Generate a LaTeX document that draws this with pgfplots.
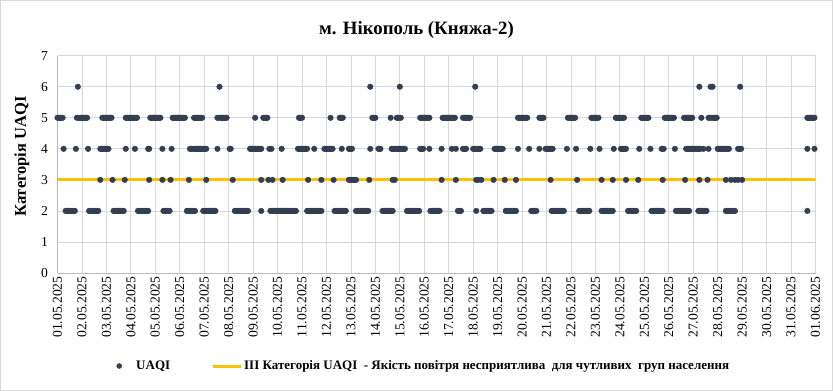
\documentclass[border=0pt]{standalone}
\usepackage{fontspec}
\setmainfont{Liberation Serif}
\usepackage{pgfplots}
\pgfplotsset{compat=1.18}
\definecolor{navy}{RGB}{51,63,80}
\definecolor{amber}{RGB}{255,192,0}
\definecolor{hgrid}{RGB}{207,215,232}
\definecolor{vgrid}{RGB}{217,217,217}
\definecolor{bordergray}{RGB}{217,217,217}
\begin{document}
\begin{tikzpicture}[x=1pt,y=1pt]
\useasboundingbox (0,0) rectangle (833,391);
\path[draw=bordergray, fill=white] (0.5,0.5) rectangle (832.5,390.5);
\node[font=\fontsize{18.8}{22}\selectfont\bfseries] at (416.5,361) {м. Нікополь (Княжа-2)};
\begin{axis}[
  at={(57.5pt,118pt)}, anchor=south west, scale only axis,
  width=758pt, height=217.3pt,
  xmin=0, xmax=744, ymin=0, ymax=7,
  xtick={0,24,...,744},
  xticklabels={01.05.2025,02.05.2025,03.05.2025,04.05.2025,05.05.2025,06.05.2025,07.05.2025,08.05.2025,09.05.2025,10.05.2025,11.05.2025,12.05.2025,13.05.2025,14.05.2025,15.05.2025,16.05.2025,17.05.2025,18.05.2025,19.05.2025,20.05.2025,21.05.2025,22.05.2025,23.05.2025,24.05.2025,25.05.2025,26.05.2025,27.05.2025,28.05.2025,29.05.2025,30.05.2025,31.05.2025,01.06.2025},
  ytick={0,1,...,7},
  /pgf/number format/assume math mode=true,
  xticklabel style={rotate=90, anchor=east, font=\fontsize{13.6}{15}\selectfont},
  yticklabel style={font=\fontsize{13.6}{15}\selectfont, xshift=-6pt},
  tick style={draw=none},
  xmajorgrids, ymajorgrids,
  x grid style={vgrid, line width=0.8pt},
  y grid style={hgrid, line width=0.8pt},
  axis x line*=bottom, axis y line*=left,
  axis line style={draw=gray!55, -, line width=0.8pt},
  ylabel={Категорія UAQI},
  ylabel style={font=\fontsize{16.5}{18}\selectfont\bfseries, at={(axis description cs:-0.047,0.536)}, anchor=center},
  legend style={at={(axis description cs:0.4765,-0.428)}, anchor=center, draw=none, fill=none,
    font=\fontsize{13}{15}\selectfont\bfseries, /tikz/every even column/.append style={column sep=39pt}},
  legend columns=2,
  legend cell align=left,
]
\addlegendimage{legend image code/.code={\path[draw=none] (0pt,0pt) -- (28pt,0pt); \path[draw=none, fill=navy] (13pt,0pt) circle (2.8pt);}}
\addlegendentry{UAQI}
\addlegendimage{legend image code/.code={\draw[amber, line width=3pt] (0pt,0pt) -- (28pt,0pt);}}
\addlegendentry{ІІІ Категорія UAQI\ \ - Якість повітря несприятлива\ \ для чутливих\ \ груп населення}

\addplot[forget plot, amber, line width=3pt] coordinates {(0,3)(744,3)};

% level 6
\addplot[forget plot, only marks, mark=*, mark size=2.8pt, color=navy] coordinates {
(20,6)(159,6)(307,6)(336,6)(410,6)(630,6)(641,6)(643,6)(670,6)};

% level 5
\addplot[forget plot, only marks, mark=*, mark size=2.8pt, color=navy] coordinates {
(0,5)(1,5)(2,5)(3,5)(4,5)(5,5)
(19,5)(21,5)(22,5)(23,5)(24,5)(25,5)(26,5)(27,5)(28,5)(29,5)
(44,5)(45,5)(46,5)(47,5)(48,5)(49,5)(50,5)(51,5)(52,5)(53,5)
(67,5)(68,5)(69,5)(70,5)(71,5)(72,5)(73,5)(74,5)(75,5)(76,5)(77,5)(78,5)
(91,5)(92,5)(93,5)(94,5)(95,5)(96,5)(97,5)(98,5)(99,5)(100,5)(101,5)
(113,5)(114,5)(115,5)(116,5)(117,5)(118,5)(119,5)(120,5)(121,5)(122,5)(123,5)(124,5)(125,5)
(134,5)(135,5)(136,5)(137,5)(138,5)(139,5)(140,5)(141,5)(142,5)
(157,5)(158,5)(160,5)(161,5)(162,5)(163,5)(164,5)(165,5)(166,5)
(194,5)
(202,5)(203,5)(204,5)(205,5)(206,5)
(237,5)(238,5)(239,5)(240,5)
(268,5)
(277,5)(278,5)(279,5)(280,5)
(309,5)(310,5)(311,5)(312,5)
(327,5)
(333,5)(334,5)(335,5)(337,5)
(356,5)(357,5)(358,5)(359,5)(360,5)(361,5)(362,5)(363,5)(364,5)(365,5)
(378,5)(379,5)(380,5)(381,5)(382,5)(383,5)(384,5)(385,5)(386,5)(387,5)(388,5)(389,5)(390,5)
(398,5)(399,5)(400,5)(401,5)(402,5)(403,5)(404,5)(405,5)
(452,5)(453,5)(454,5)(455,5)(456,5)(457,5)(458,5)(459,5)(460,5)(461,5)
(473,5)(474,5)(475,5)(476,5)(477,5)
(501,5)(502,5)(503,5)(504,5)(505,5)(506,5)(507,5)(508,5)
(524,5)(525,5)(526,5)(527,5)(528,5)(529,5)(530,5)(531,5)
(548,5)(549,5)(550,5)(551,5)(552,5)(553,5)(554,5)(555,5)(556,5)
(573,5)(574,5)(575,5)(576,5)(577,5)(578,5)(579,5)(580,5)
(596,5)(597,5)(598,5)(599,5)(600,5)(601,5)(602,5)(603,5)(604,5)(605,5)
(615,5)(616,5)(617,5)(618,5)(619,5)(620,5)(621,5)(622,5)(623,5)
(632,5)
(639,5)(640,5)(642,5)(644,5)(645,5)(646,5)(647,5)
(736,5)(737,5)(738,5)(739,5)(740,5)(741,5)(742,5)(743,5)};

% level 4
\addplot[forget plot, only marks, mark=*, mark size=2.8pt, color=navy] coordinates {
(6,4)(18,4)(30,4)
(42,4)(43,4)(44,4)(45,4)(46,4)(47,4)(48,4)(49,4)(50,4)
(67,4)(76,4)(89,4)(90,4)(103,4)(112,4)
(130,4)(131,4)(132,4)(134,4)(135,4)(136,4)(137,4)(138,4)(139,4)(140,4)(141,4)(142,4)(143,4)(144,4)(145,4)(146,4)
(157,4)(169,4)(170,4)
(189,4)(190,4)(191,4)(192,4)(193,4)(194,4)(195,4)(196,4)(197,4)(198,4)(199,4)(200,4)
(208,4)(210,4)(220,4)
(236,4)(237,4)(238,4)(239,4)(240,4)(241,4)(242,4)(243,4)(244,4)(245,4)
(252,4)
(262,4)(263,4)(264,4)(265,4)(266,4)(267,4)(268,4)(269,4)(270,4)
(279,4)(286,4)(287,4)(288,4)(289,4)
(307,4)(315,4)(316,4)(317,4)
(328,4)(329,4)(330,4)(331,4)(332,4)(333,4)(334,4)(335,4)(336,4)(337,4)(338,4)(339,4)(340,4)(341,4)
(356,4)(357,4)(358,4)(359,4)(365,4)
(377,4)(387,4)(391,4)
(398,4)(399,4)(400,4)(401,4)
(408,4)(409,4)(410,4)(411,4)(412,4)(413,4)(414,4)(415,4)
(429,4)(430,4)(431,4)(432,4)(433,4)(434,4)(435,4)(436,4)(437,4)
(452,4)(463,4)(473,4)
(479,4)(480,4)(481,4)(482,4)(483,4)(484,4)(485,4)(486,4)
(500,4)(509,4)(523,4)(532,4)(546,4)
(553,4)(554,4)(555,4)(556,4)(557,4)(558,4)
(571,4)(582,4)(593,4)(594,4)(595,4)(606,4)
(617,4)(618,4)(619,4)(620,4)(621,4)(622,4)(623,4)(624,4)(625,4)(626,4)(627,4)(628,4)(629,4)(630,4)(631,4)
(634,4)(639,4)
(648,4)(649,4)(650,4)(651,4)(652,4)(653,4)(654,4)(655,4)(656,4)(657,4)(658,4)(659,4)
(668,4)(669,4)(670,4)(671,4)
(736,4)(743,4)};

% level 3
\addplot[forget plot, only marks, mark=*, mark size=2.8pt, color=navy] coordinates {
(42,3)(54,3)(66,3)(90,3)(103,3)(111,3)(129,3)(146,3)(172,3)(200,3)(207,3)(211,3)(221,3)
(246,3)(259,3)(271,3)(286,3)(287,3)(288,3)(289,3)(290,3)(291,3)(292,3)(293,3)(306,3)(329,3)(331,3)
(377,3)(391,3)(411,3)(413,3)(416,3)(428,3)(439,3)(450,3)(484,3)
(510,3)(534,3)(545,3)(558,3)(570,3)(594,3)(616,3)(630,3)(638,3)
(656,3)(661,3)(665,3)(668,3)(672,3)};

% level 2
\addplot[forget plot, only marks, mark=*, mark size=2.8pt, color=navy] coordinates {
(8,2)(9,2)(10,2)(11,2)(12,2)(13,2)(14,2)(15,2)(16,2)(17,2)
(31,2)(32,2)(33,2)(34,2)(35,2)(36,2)(37,2)(38,2)(39,2)(40,2)
(55,2)(56,2)(57,2)(58,2)(59,2)(60,2)(61,2)(62,2)(63,2)(64,2)(65,2)
(79,2)(80,2)(81,2)(82,2)(83,2)(84,2)(85,2)(86,2)(87,2)(88,2)(89,2)
(104,2)(105,2)(106,2)(107,2)(108,2)(109,2)(110,2)
(127,2)(128,2)(129,2)(130,2)(131,2)(132,2)(133,2)(134,2)(135,2)
(143,2)(144,2)(145,2)(146,2)(147,2)(148,2)(149,2)(150,2)(151,2)(152,2)(153,2)(154,2)(155,2)
(174,2)(175,2)(176,2)(177,2)(178,2)(179,2)(180,2)(181,2)(182,2)(183,2)(184,2)(185,2)(186,2)(187,2)
(200,2)
(209,2)(210,2)(211,2)(212,2)(213,2)(214,2)(215,2)(216,2)(217,2)(218,2)(219,2)(220,2)(221,2)(222,2)(223,2)(224,2)(225,2)(226,2)(227,2)(228,2)(229,2)(230,2)(231,2)(232,2)(233,2)(234,2)
(245,2)(246,2)(247,2)(248,2)(249,2)(250,2)(251,2)(252,2)(253,2)(254,2)(255,2)(256,2)(257,2)(258,2)(259,2)
(272,2)(273,2)(274,2)(275,2)(276,2)(277,2)(278,2)(279,2)(280,2)(281,2)(282,2)(283,2)
(293,2)(294,2)(295,2)(296,2)(297,2)(298,2)(299,2)(300,2)(301,2)(302,2)(303,2)(304,2)(305,2)
(319,2)(320,2)(321,2)(322,2)(323,2)(324,2)(325,2)(326,2)(327,2)(328,2)(329,2)
(343,2)(344,2)(345,2)(346,2)(347,2)(348,2)(349,2)(350,2)(351,2)(352,2)(353,2)(354,2)(355,2)
(366,2)(367,2)(368,2)(369,2)(370,2)(371,2)(372,2)(373,2)(374,2)(375,2)
(393,2)(394,2)(395,2)(396,2)
(411,2)
(418,2)(419,2)(420,2)(421,2)(422,2)(423,2)(424,2)(425,2)(426,2)
(440,2)(441,2)(442,2)(443,2)(444,2)(445,2)(446,2)(447,2)(448,2)(449,2)(450,2)
(465,2)(466,2)(467,2)(468,2)(469,2)(470,2)
(485,2)(486,2)(487,2)(488,2)(489,2)(490,2)(491,2)(492,2)(493,2)(494,2)(495,2)(496,2)(497,2)
(512,2)(513,2)(514,2)(515,2)(516,2)(517,2)(518,2)(519,2)(520,2)(521,2)(522,2)
(534,2)(535,2)(536,2)(537,2)(538,2)(539,2)(540,2)(541,2)(542,2)(543,2)(544,2)(545,2)
(560,2)(561,2)(562,2)(563,2)(564,2)(565,2)(566,2)(567,2)(568,2)
(583,2)(584,2)(585,2)(586,2)(587,2)(588,2)(589,2)(590,2)(591,2)(592,2)(593,2)(594,2)
(607,2)(608,2)(609,2)(610,2)(611,2)(612,2)(613,2)(614,2)(615,2)(616,2)(617,2)(618,2)(619,2)(620,2)
(629,2)(630,2)(631,2)(632,2)(633,2)(634,2)(635,2)(636,2)(637,2)
(656,2)(657,2)(658,2)(659,2)(660,2)(661,2)(662,2)(663,2)(664,2)(665,2)
(736,2)};
\end{axis}
\end{tikzpicture}
\end{document}
